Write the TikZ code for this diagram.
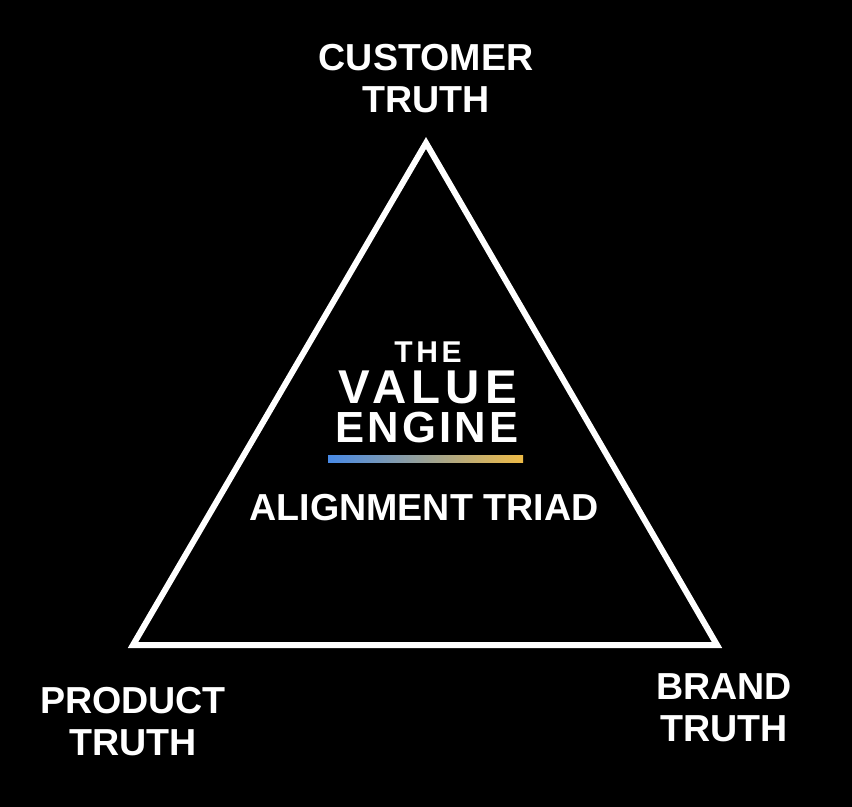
\documentclass[tikz,border=0pt]{standalone}
\usepackage{fontspec}
\setmainfont{Liberation Sans}
\definecolor{barblue}{RGB}{72,138,230}
\definecolor{bargold}{RGB}{238,186,70}
\tikzset{
  truth/.style={text=white, align=center, inner sep=0pt,
    font=\bfseries\fontsize{21.4}{23.9}\selectfont},
  logothe/.style={text=white, inner sep=0pt, text height=0.44cm, text depth=0pt,
    font=\bfseries\fontsize{17.1}{19}\selectfont\addfontfeatures{LetterSpace=12}},
  logovalue/.style={text=white, inner sep=0pt, text height=0.68cm, text depth=0pt,
    font=\bfseries\fontsize{27}{30}\selectfont\addfontfeatures{LetterSpace=11}},
  logoengine/.style={text=white, inner sep=0pt, text height=0.62cm, text depth=0pt,
    font=\bfseries\fontsize{24.8}{28}\selectfont\addfontfeatures{LetterSpace=7}},
}
\begin{document}
\begin{tikzpicture}[x=0.02cm, y=-0.02cm]
      % Background
      \fill[black] (0,0) rectangle (852,807);
      \useasboundingbox (0,0) rectangle (852,807);

      % Triangle
      \coordinate (apex) at (426,143);
      \coordinate (left) at (133,645);
      \coordinate (right) at (717,645);
      \draw[white, line width=6*0.02cm, line join=miter]
        (apex) -- (right) -- (left) -- cycle
      ;

      % Corners
      \node[truth] (customer) at (426,79) {CUSTOMER\\TRUTH};
      \node[truth] (product) at (133,721.5) {PRODUCT\\TRUTH};
      \node[truth] (brand) at (724,707.5) {BRAND\\TRUTH};

      % Logo
      \node[logothe] (the) at (428,352) {THE};
      \node[logovalue] (value) at (428,386.5) {VALUE};
      \node[logoengine] (engine) at (427,427) {ENGINE};
      \shade[left color=barblue, right color=bargold]
        (328,455) rectangle (523,462)
      ;
      \node[truth] (triad) at (424,508) {ALIGNMENT TRIAD};
    \end{tikzpicture}
\end{document}
